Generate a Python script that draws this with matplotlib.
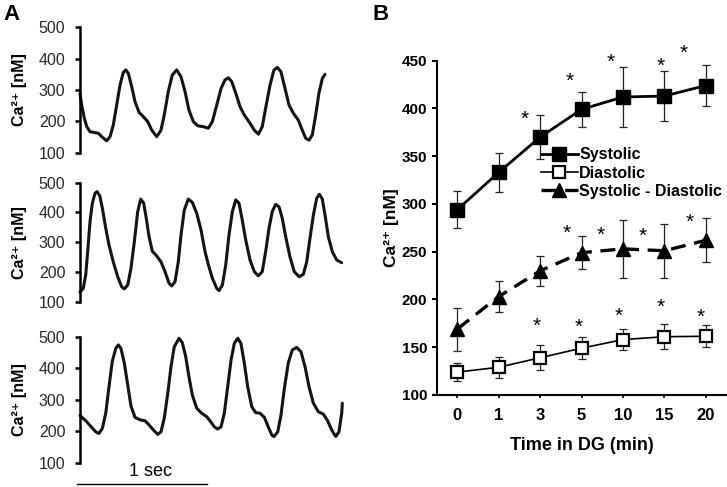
import matplotlib
matplotlib.use("Agg")
import matplotlib.pyplot as plt
import matplotlib.transforms as mtransforms

plt.rcParams['font.family'] = ['Liberation Sans', 'DejaVu Sans']

# ---------- panel A : raw Ca2+ traces (time in s, Ca2+ in nM) ----------
trace_top = [
    (0.0, 289), (0.013, 252), (0.033, 210), (0.052, 183), (0.077, 167), (0.115, 164),
    (0.141, 162), (0.167, 151), (0.205, 138), (0.231, 151), (0.256, 188), (0.282, 252),
    (0.308, 316), (0.333, 356), (0.352, 364), (0.372, 353), (0.398, 310), (0.423, 263),
    (0.454, 229), (0.487, 215), (0.521, 199), (0.552, 172), (0.59, 151), (0.623, 172),
    (0.648, 220), (0.679, 295), (0.71, 348), (0.744, 364), (0.777, 342), (0.808, 295),
    (0.838, 236), (0.872, 199), (0.905, 186), (0.948, 183), (0.987, 178), (1.018, 199),
    (1.052, 252), (1.085, 305), (1.115, 332), (1.141, 339), (1.167, 327), (1.198, 290),
    (1.231, 247), (1.264, 220), (1.3, 199), (1.341, 172), (1.372, 159), (1.402, 183),
    (1.428, 242), (1.462, 316), (1.492, 364), (1.518, 372), (1.546, 358), (1.577, 305),
    (1.608, 252), (1.641, 226), (1.679, 204), (1.71, 172), (1.736, 146), (1.762, 140),
    (1.787, 157), (1.813, 220), (1.838, 290), (1.864, 337), (1.885, 350),
]
trace_mid = [
    (0.0, 132), (0.025, 145), (0.044, 190), (0.059, 268), (0.077, 369), (0.095, 431),
    (0.115, 464), (0.131, 470), (0.152, 456), (0.172, 414), (0.198, 347), (0.223, 291),
    (0.256, 234), (0.29, 184), (0.321, 150), (0.341, 143), (0.367, 156), (0.392, 212),
    (0.418, 302), (0.444, 403), (0.467, 445), (0.49, 431), (0.51, 380), (0.531, 319),
    (0.556, 270), (0.59, 254), (0.623, 234), (0.654, 201), (0.685, 162), (0.705, 153),
    (0.731, 167), (0.756, 234), (0.777, 324), (0.802, 408), (0.833, 445), (0.864, 434),
    (0.898, 397), (0.931, 341), (0.962, 268), (0.987, 225), (1.018, 179), (1.052, 145),
    (1.069, 137), (1.095, 156), (1.121, 223), (1.146, 324), (1.172, 403), (1.198, 442),
    (1.223, 431), (1.248, 375), (1.275, 307), (1.308, 240), (1.341, 201), (1.372, 187),
    (1.402, 201), (1.428, 268), (1.454, 347), (1.479, 403), (1.505, 427), (1.531, 419),
    (1.556, 380), (1.582, 319), (1.615, 251), (1.648, 201), (1.685, 184), (1.718, 192),
    (1.744, 234), (1.769, 313), (1.795, 391), (1.821, 448), (1.841, 461), (1.864, 445),
    (1.885, 391), (1.91, 319), (1.941, 268), (1.975, 240), (2.013, 231),
]
trace_bot = [
    (0.0, 250), (0.052, 230), (0.09, 212), (0.121, 198), (0.146, 193), (0.172, 209),
    (0.198, 257), (0.223, 341), (0.248, 421), (0.275, 463), (0.295, 474), (0.315, 463),
    (0.341, 416), (0.367, 347), (0.392, 280), (0.423, 244), (0.462, 236), (0.5, 233),
    (0.531, 220), (0.564, 204), (0.598, 190), (0.623, 198), (0.648, 241), (0.675, 320),
    (0.7, 405), (0.725, 468), (0.762, 495), (0.787, 481), (0.813, 437), (0.838, 373),
    (0.864, 315), (0.898, 273), (0.936, 257), (0.975, 246), (1.0, 233), (1.033, 214),
    (1.059, 207), (1.085, 214), (1.11, 257), (1.136, 341), (1.162, 426), (1.187, 479),
    (1.213, 495), (1.238, 479), (1.264, 416), (1.29, 341), (1.321, 278), (1.351, 259),
    (1.385, 257), (1.418, 244), (1.448, 214), (1.475, 188), (1.492, 183), (1.521, 198),
    (1.546, 251), (1.572, 336), (1.602, 416), (1.633, 458), (1.667, 466), (1.7, 452),
    (1.731, 405), (1.762, 341), (1.795, 289), (1.833, 262), (1.872, 254), (1.905, 233),
    (1.936, 204), (1.967, 183), (1.992, 198), (2.013, 257), (2.018, 289),
]
a_yticks = [100, 200, 300, 400, 500]

# ---------- panel B : summary ----------
times = ['0', '1', '3', '5', '10', '15', '20']
systolic = [294, 333, 370, 399, 412, 413, 424]
systolic_err = [19.5, 20, 23, 18.5, 31, 26, 21]
diastolic = [124, 129, 139, 149, 158, 161, 161.5]
diastolic_err = [9, 11, 13, 11.5, 11, 13, 11.5]
sys_dia = [169, 203, 230, 249, 253, 251, 262]
sys_dia_err = [22.5, 16, 15.5, 17, 30, 28, 23]
b_yticks = [100, 150, 200, 250, 300, 350, 400, 450]

# significance stars (x in category units, y in nM)
sys_star_x = [1.64, 2.71, 3.71, 4.9, 5.47]
sys_star_y = [395, 435, 455, 451, 464]
sd_star_x = [2.64, 3.47, 4.47, 5.6]
sd_star_y = [276, 274, 273, 287]
dia_star_x = [1.93, 2.93, 3.9, 4.9, 5.88]
dia_star_y = [178, 177, 188.5, 198, 187.5]

W, H = 727, 487
fig = plt.figure(figsize=(W / 100, H / 100), dpi=100)


def px_axes(left, top, right, bottom):
    return fig.add_axes([left / W, 1 - bottom / H, (right - left) / W, (bottom - top) / H])


ylab = 'Ca²⁺ [nM]'
boxes = [(27.3, 152.7), (182.7, 301.7), (336.7, 462.7)]
traces = [trace_top, trace_mid, trace_bot]
axes_a = []
for (top, bot), tr in zip(boxes, traces):
    ax = px_axes(80, top, 80 + 2.02 * 130, bot)
    t = [p[0] for p in tr]
    v = [p[1] for p in tr]
    ax.plot(t, v, color='#141414', lw=2.2, solid_joinstyle='round', solid_capstyle='round',
            clip_on=False)
    ax.set_xlim(0, 2.02)
    ax.set_ylim(100, 500)
    ax.set_yticks(a_yticks)
    ax.set_xticks([])
    for s in ['top', 'right', 'bottom']:
        ax.spines[s].set_visible(False)
    ax.spines['left'].set_linewidth(1.8)
    ax.tick_params(axis='y', length=3.5, width=1.8, pad=7, labelsize=11.5, labelcolor='#2a2a2a')
    ax.set_ylabel(ylab, fontsize=11.5, fontweight='bold')
    ax.yaxis.set_label_coords(-0.2, 0.5)
    ax.patch.set_alpha(0)
    axes_a.append(ax)

# scale bar under the last trace
ax3 = axes_a[-1]
trans = mtransforms.blended_transform_factory(ax3.transData, ax3.transAxes)
ax3.plot([-0.023, 0.977], [-0.169, -0.169], color='black', lw=1.0, transform=trans, clip_on=False)
ax3.text(0.545, -0.071, '1 sec', transform=trans, ha='center', va='center', fontsize=13)

# panel B
axb = px_axes(436.5, 60.7, 726.5, 395)
x = list(range(len(times)))
ekw = dict(fmt='none', ecolor='#222222', elinewidth=0.9, capsize=3, capthick=0.9, zorder=1)
axb.errorbar(x, systolic, yerr=systolic_err, **ekw)
axb.errorbar(x, diastolic, yerr=diastolic_err, **ekw)
axb.errorbar(x, sys_dia, yerr=sys_dia_err, **ekw)

h1, = axb.plot(x, systolic, color='black', lw=2.0, marker='s', ms=10, mfc='black', mec='black',
               zorder=3, label='Systolic')
h2, = axb.plot(x, diastolic, color='black', lw=1.2, marker='s', ms=9, mfc='white', mec='black',
               mew=1.6, zorder=3, label='Diastolic')
h3, = axb.plot(x, sys_dia, color='black', lw=2.4, marker='^', ms=10, mfc='black', mec='black',
               dashes=(4.5, 2.6), zorder=3, label='Systolic - Diastolic')

for xs, ys in [(sys_star_x, sys_star_y), (sd_star_x, sd_star_y), (dia_star_x, dia_star_y)]:
    for sx, sy in zip(xs, ys):
        axb.annotate('*', (sx, sy), xytext=(0, -8.5), textcoords='offset points',
                     ha='center', va='baseline', fontsize=15, annotation_clip=False)

axb.set_xlim(-0.5, 6.5)
axb.set_ylim(100, 450)
axb.set_xticks(x)
axb.set_xticklabels(times, fontsize=12, fontweight='bold')
axb.set_yticks(b_yticks)
axb.set_yticklabels([str(v) for v in b_yticks], fontsize=11, fontweight='bold')
for s in ['top', 'right']:
    axb.spines[s].set_visible(False)
for s in ['left', 'bottom']:
    axb.spines[s].set_linewidth(1.5)
axb.tick_params(axis='y', length=3.5, width=1.5, pad=3)
axb.tick_params(axis='x', length=2.5, width=1.2, pad=7)
axb.set_xlabel('Time in DG (min)', fontsize=13, fontweight='bold', labelpad=10)
axb.set_ylabel(ylab, fontsize=12.5, fontweight='bold')
axb.yaxis.set_label_coords(-0.13, 0.5)

axb.legend(handles=[h1, h2, h3], loc='center left', bbox_to_anchor=(0.36, 0.664),
           frameon=False, prop={'weight': 'bold', 'size': 11.5},
           handlelength=2.3, handletextpad=0.1, labelspacing=0.2, borderpad=0,
           borderaxespad=0, markerscale=0.95)

fig.text(3 / W, 1 - 4 / H, 'A', fontsize=16, fontweight='bold', va='top', ha='left')
fig.text(372 / W, 1 - 4 / H, 'B', fontsize=16, fontweight='bold', va='top', ha='left')

fig.savefig('out.png', dpi=100)
